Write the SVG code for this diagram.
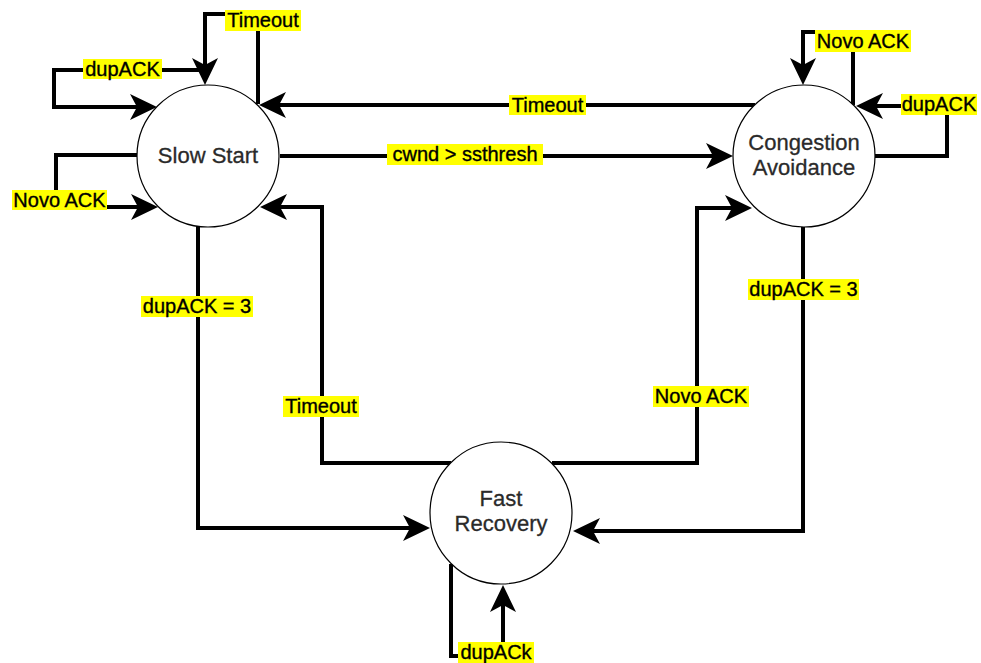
<svg xmlns="http://www.w3.org/2000/svg" width="981" height="663" viewBox="0 0 981 663">
<style>
.node circle{fill:#fff;stroke:#000;stroke-width:1.2}
.node text{font-family:"Liberation Sans",Arial,sans-serif;font-size:22px;fill:#2a2a2a;stroke:#2a2a2a;stroke-width:0.3;text-anchor:middle}
.edge{fill:none;stroke:#000;stroke-width:4;marker-end:url(#arr)}
.lbl rect{fill:#ffff00}
.lbl text{font-family:"Liberation Sans",Arial,sans-serif;font-size:20px;fill:#000;stroke:#000;stroke-width:0.35;text-anchor:middle}
</style>
<defs>
<marker id="arr" markerUnits="userSpaceOnUse" markerWidth="32" markerHeight="32" viewBox="-2 -15 32 30" refX="12" refY="0" orient="auto" overflow="visible">
<path d="M0,-13 L27,0 L0,13 L7,0 Z" fill="#000"/>
</marker>
</defs>
<rect width="981" height="663" fill="#fff"/>
<g id="connectors">
<path class="edge" d="M258,104 V14 H205 V70"/>
<path class="edge" d="M205,70 H54 V107 H142"/>
<path class="edge" d="M137,155 H56 V207 H143"/>
<path class="edge" d="M755,105 H274"/>
<path class="edge" d="M280,156 H718"/>
<path class="edge" d="M451,463 H322 V207 H275"/>
<path class="edge" d="M552,463 H697 V208 H737"/>
<path class="edge" d="M198,226 V528 H415"/>
<path class="edge" d="M803,227 V531 H588"/>
<path class="edge" d="M853,105 V32 H803 V70"/>
<path class="edge" d="M875,156 H947 V106 H871"/>
<path class="edge" d="M451,564 V656 H503 V600"/>
</g>
<g id="slow-start" class="node">
<circle cx="208" cy="156" r="71"/>
<text x="208" y="163">Slow Start</text>
</g>
<g id="congestion-avoidance" class="node">
<circle cx="804" cy="156" r="71"/>
<text x="804" y="150">Congestion</text>
<text x="804" y="175">Avoidance</text>
</g>
<g id="fast-recovery" class="node">
<circle cx="501" cy="513" r="71"/>
<text x="501" y="506">Fast</text>
<text x="501" y="531">Recovery</text>
</g>
<g id="labels">
<g class="lbl"><rect x="225" y="10" width="76" height="21"/><text x="263" y="27">Timeout</text></g>
<g class="lbl"><rect x="83" y="59" width="79" height="20"/><text x="122.5" y="76">dupACK</text></g>
<g class="lbl"><rect x="12" y="190" width="95" height="20"/><text x="59.5" y="207">Novo ACK</text></g>
<g class="lbl"><rect x="509" y="95" width="77" height="20"/><text x="547.5" y="112">Timeout</text></g>
<g class="lbl"><rect x="387" y="144" width="156" height="21"/><text x="465" y="161">cwnd &gt; ssthresh</text></g>
<g class="lbl"><rect x="141" y="296" width="112" height="21"/><text x="197" y="313">dupACK = 3</text></g>
<g class="lbl"><rect x="748" y="279" width="111" height="21"/><text x="803.5" y="296">dupACK = 3</text></g>
<g class="lbl"><rect x="283" y="396" width="76" height="21"/><text x="321" y="413">Timeout</text></g>
<g class="lbl"><rect x="653" y="386" width="96" height="21"/><text x="701" y="403">Novo ACK</text></g>
<g class="lbl"><rect x="815" y="30" width="96" height="22"/><text x="863" y="48">Novo ACK</text></g>
<g class="lbl"><rect x="901" y="94" width="76" height="21"/><text x="939" y="111">dupACK</text></g>
<g class="lbl"><rect x="458" y="642" width="76" height="21"/><text x="496" y="659">dupACk</text></g>
</g>
</svg>
